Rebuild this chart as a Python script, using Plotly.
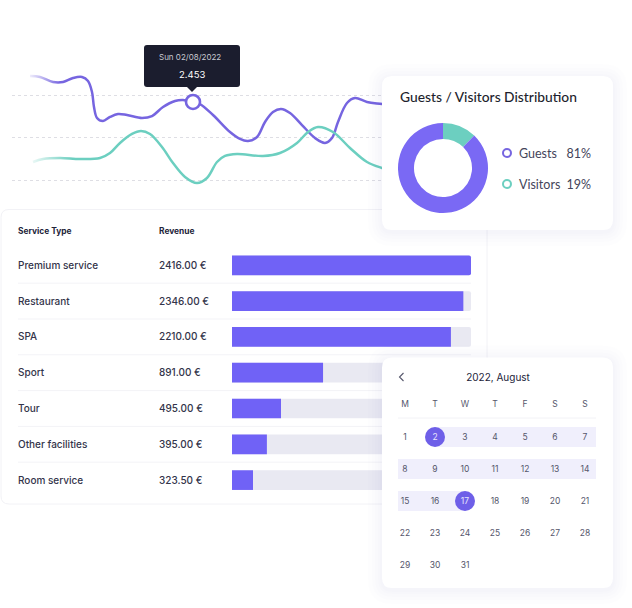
import plotly.graph_objs as go

W, H = 632, 608

# line chart (x is position along the month strip, y in thousands)
GUESTS_X = [30, 40, 53, 63, 73, 82, 88, 92, 94, 97, 103, 110, 118, 127, 142, 152, 163, 175, 183, 193, 200, 213, 230, 240, 248, 257, 265, 273, 281, 290, 302, 315, 325, 332, 338, 347, 355, 367, 382, 400]
GUESTS_Y = [2.759, 2.747, 2.688, 2.688, 2.735, 2.747, 2.700, 2.571, 2.394, 2.265, 2.229, 2.277, 2.312, 2.300, 2.265, 2.288, 2.394, 2.465, 2.477, 2.453, 2.429, 2.300, 2.100, 2.018, 1.994, 2.041, 2.218, 2.335, 2.371, 2.324, 2.182, 2.029, 1.971, 2.029, 2.218, 2.441, 2.500, 2.453, 2.429, 2.40]
VISITORS_X = [33, 43, 60, 80, 100, 110, 120, 132, 141, 150, 162, 173, 185, 197, 207, 217, 225, 237, 263, 280, 297, 308, 318, 333, 350, 367, 382, 400]
VISITORS_Y = [1.747, 1.782, 1.794, 1.782, 1.794, 1.853, 1.971, 2.077, 2.112, 2.077, 1.924, 1.735, 1.571, 1.500, 1.559, 1.747, 1.818, 1.841, 1.818, 1.853, 1.971, 2.100, 2.159, 2.100, 1.912, 1.747, 1.677, 1.62]
GRID_VALUES = [2.535, 2.037, 1.535]
TOOLTIP_X = [193]
TOOLTIP_Y = [2.453]
TOOLTIP_DATE = "Sun 02/08/2022"
TOOLTIP_VALUE = "2.453"

# table
SERVICES = ["Premium service", "Restaurant", "SPA", "Sport", "Tour", "Other facilities", "Room service"]
REVENUE = ["2416.00 €", "2346.00 €", "2210.00 €", "891.00 €", "495.00 €", "395.00 €", "323.50 €"]
BAR_PCT = [100, 96.8, 91.6, 38.1, 20.5, 14.6, 8.8]
TRACK_PCT = [100, 100, 100, 100, 100, 100, 100]
ROWS = [0, 1, 2, 3, 4, 5, 6]

# donut
DONUT_LABELS = ["Visitors", "Guests"]
DONUT_DRAWN = [12.2, 87.8]
LEGEND_LABELS = ["Guests", "Visitors"]
LEGEND_VALUES = ["81%", "19%"]

# calendar
WEEKDAYS = ["M", "T", "W", "T", "F", "S", "S"]
CAL_TITLE = "2022, August"
CAL_DAYS = list(range(1, 32))
SELECTED_DAYS = [2, 17]

PURPLE = "#7665E0"
BAR_PURPLE = "#7062F6"
TEAL = "#6CCFC0"
INK = "#23243A"
TEXT = "#33344A"
MUTED = "#55566B"


def dom_x(a, b):
    return [a / W, b / W]


def dom_y(a, b):
    return [1 - b / H, 1 - a / H]


def card_path(x0, y0, x1, y1, r, fx, fy):
    return (f"M{fx(x0 + r)},{fy(y0)} L{fx(x1 - r)},{fy(y0)} Q{fx(x1)},{fy(y0)} {fx(x1)},{fy(y0 + r)} "
            f"L{fx(x1)},{fy(y1 - r)} Q{fx(x1)},{fy(y1)} {fx(x1 - r)},{fy(y1)} "
            f"L{fx(x0 + r)},{fy(y1)} Q{fx(x0)},{fy(y1)} {fx(x0)},{fy(y1 - r)} "
            f"L{fx(x0)},{fy(y0 + r)} Q{fx(x0)},{fy(y0)} {fx(x0 + r)},{fy(y0)} Z")


def card_shapes(box, r, fx, fy, xref, yref, shadow=True, border=None):
    shapes = []
    if shadow:
        for grow in [14, 10, 7, 4, 2]:
            shapes.append(dict(type="path", xref=xref, yref=yref, layer="below",
                               path=card_path(box[0] - grow, box[1] - grow + 2, box[2] + grow, box[3] + grow + 2, r + grow, fx, fy),
                               fillcolor="rgba(40,40,90,0.008)", line=dict(width=0)))
    shapes.append(dict(type="path", xref=xref, yref=yref, layer="below",
                       path=card_path(box[0], box[1], box[2], box[3], r, fx, fy),
                       fillcolor="white", line=dict(width=1 if border else 0, color=border or "white")))
    return shapes


fig = go.Figure()
shapes = []
layout_axes = {}


def text_trace(x, y, text, size, color, pos="middle center", family="Inter", xaxis="x", yaxis="y", weight=400):
    return go.Scatter(x=x, y=y, text=text, mode="text", textposition=pos, xaxis=xaxis, yaxis=yaxis,
                      textfont=dict(size=size, color=color, family=family, weight=weight), showlegend=False, hoverinfo="skip")


# ---- line chart
line_px = [12, 420]
line_py = [30, 209]
fig.add_trace(go.Scatter(x=GUESTS_X, y=GUESTS_Y, mode="lines", line=dict(color=PURPLE, width=2.5, shape="spline", smoothing=1), showlegend=False))
fig.add_trace(go.Scatter(x=VISITORS_X, y=VISITORS_Y, mode="lines", line=dict(color=TEAL, width=2.5, shape="spline", smoothing=1), showlegend=False))

# fade the left ends of both lines
for (m0, m1, v0, v1) in [(26, 60, 2.62, 2.85), (26, 72, 1.66, 1.88)]:
    fig.add_trace(go.Scatter(x=[m0, m1, m1, m0, m0], y=[v0, v0, v1, v1, v0], mode="lines", fill="toself",
                             line=dict(width=0),
                             fillgradient=dict(type="horizontal", colorscale=[[0, "rgba(255,255,255,1)"], [1, "rgba(255,255,255,0)"]]),
                             showlegend=False, hoverinfo="skip"))

fig.add_trace(go.Scatter(x=TOOLTIP_X, y=TOOLTIP_Y, mode="markers",
                         marker=dict(size=14, color="white", line=dict(color=PURPLE, width=2.6)), showlegend=False))

layout_axes["xaxis"] = dict(domain=dom_x(*line_px), range=line_px, visible=False, anchor="y")
layout_axes["yaxis"] = dict(domain=dom_y(*line_py), range=[1.194, 3.300], anchor="x", tickmode="array", tickvals=GRID_VALUES,
                            showticklabels=False, showgrid=True, gridcolor="#DEDEE4", griddash="dot", gridwidth=1,
                            zeroline=False, showline=False, ticks="")

# tooltip box and pointer
tip = card_path(144, 45, 240, 87, 3, lambda v: v / W, lambda v: 1 - v / H)
shapes.append(dict(type="path", xref="paper", yref="paper", layer="above", path=tip, fillcolor="#1B1D2E", line=dict(width=0)))
shapes.append(dict(type="path", xref="paper", yref="paper", layer="above",
                   path=f"M{187 / W},{1 - 87 / H} L{197 / W},{1 - 87 / H} L{192 / W},{1 - 92 / H} Z",
                   fillcolor="#1B1D2E", line=dict(width=0)))
annotations = [
    dict(xref="paper", yref="paper", x=190 / W, y=1 - 57 / H, xanchor="center", yanchor="middle", text=TOOLTIP_DATE, showarrow=False,
         font=dict(size=8, color="#C8C9D1", family="Inter")),
    dict(xref="paper", yref="paper", x=192 / W, y=1 - 75 / H, xanchor="center", yanchor="middle", text=TOOLTIP_VALUE, showarrow=False,
         font=dict(size=9.5, color="white", family="Inter")),
]

# ---- table card
tbl_px = [0, 500]
tbl_py = [200, 520]


def tx(p):
    return (p - 232) / 2.39


def ty(p):
    return (p - 265.3) / 35.8


shapes += card_shapes((1, 209.5, 487, 504), 8, tx, ty, "x2", "y2", shadow=False, border="#F2F2F6")
for r in ROWS[:-1]:
    shapes.append(dict(type="line", xref="x2", yref="y2", layer="below", x0=tx(18), x1=tx(471), y0=r + 0.5, y1=r + 0.5,
                       line=dict(color="#F3F3F7", width=1)))

text_rows = [r + 0.025 for r in ROWS]
fig.add_trace(go.Bar(y=ROWS, x=TRACK_PCT, orientation="h", width=0.55, marker=dict(color="#E9E9F2", cornerradius=2, line=dict(width=0)),
                     xaxis="x2", yaxis="y2", showlegend=False))
fig.add_trace(go.Bar(y=ROWS, x=BAR_PCT, orientation="h", width=0.55, marker=dict(color=BAR_PURPLE, cornerradius=2, line=dict(width=0)),
                     xaxis="x2", yaxis="y2", showlegend=False))
fig.add_trace(text_trace([tx(18)] * 7, text_rows, SERVICES, 10, TEXT, "middle right", xaxis="x2", yaxis="y2", weight=500))
fig.add_trace(text_trace([tx(159)] * 7, text_rows, REVENUE, 10, TEXT, "middle right", xaxis="x2", yaxis="y2", weight=500))
fig.add_trace(text_trace([tx(18), tx(159)], [ty(232), ty(232)], ["Service Type", "Revenue"], 8.4, INK, "middle right", xaxis="x2", yaxis="y2", weight=700))

layout_axes["xaxis2"] = dict(domain=dom_x(*tbl_px), range=[tx(tbl_px[0]), tx(tbl_px[1])], visible=False, anchor="y2")
layout_axes["yaxis2"] = dict(domain=dom_y(*tbl_py), range=[ty(tbl_py[1]), ty(tbl_py[0])], visible=False, anchor="x2")

# ---- donut card
don_px = [362, 632]
don_py = [58, 250]
shapes += card_shapes((382, 76, 613, 230), 10, lambda v: v, lambda v: v, "x3", "y3")
fig.add_trace(go.Scatter(x=[507, 507], y=[153, 184], mode="markers", xaxis="x3", yaxis="y3", showlegend=False,
                         marker=dict(size=8, color="white", line=dict(width=2, color=[PURPLE, TEAL]))))
fig.add_trace(text_trace([400], [98.5], ["Guests / Visitors Distribution"], 13.8, "#1E1F2E", "middle right", "Lato", "x3", "y3", 500))
fig.add_trace(text_trace([519, 519], [154.5, 185.5], LEGEND_LABELS, 12.5, "#44455A", "middle right", "Lato", "x3", "y3"))
fig.add_trace(text_trace([591, 591], [154.5, 185.5], LEGEND_VALUES, 12.5, "#44455A", "middle left", "Lato", "x3", "y3"))
layout_axes["xaxis3"] = dict(domain=dom_x(*don_px), range=don_px, visible=False, anchor="y3")
layout_axes["yaxis3"] = dict(domain=dom_y(*don_py), range=[don_py[1], don_py[0]], visible=False, anchor="x3")

fig.add_trace(go.Pie(labels=DONUT_LABELS, values=DONUT_DRAWN, hole=0.645, sort=False, direction="clockwise", rotation=0,
                     marker=dict(colors=[TEAL, "#7A69F4"], line=dict(width=0)), textinfo="none",
                     domain=dict(x=dom_x(398, 488), y=dom_y(123, 213)), showlegend=False))

# ---- calendar card
cal_px = [362, 632]
cal_py = [340, 606]


def cx(p):
    return (p - 405) / 30


def cy(p):
    return (p - 437) / 32


shapes += card_shapes((382, 357.5, 613, 588), 10, cx, cy, "x4", "y4")
shapes.append(dict(type="line", xref="x4", yref="y4", layer="below", x0=cx(398), x1=cx(596), y0=cy(418), y1=cy(418),
                   line=dict(color="#F2F2F6", width=1)))
shapes.append(dict(type="path", xref="x4", yref="y4", layer="below",
                   path=f"M{cx(403.5)},{cy(373)} L{cx(399.5)},{cy(377)} L{cx(403.5)},{cy(381)}",
                   line=dict(color=MUTED, width=1.1)))

sel_col = [(d - 1) % 7 for d in SELECTED_DAYS]
sel_row = [(d - 1) // 7 for d in SELECTED_DAYS]
other = [d for d in CAL_DAYS if d not in SELECTED_DAYS]

# selected range band, one bar per week
band_row = [0, 1, 2]
band_from = [sel_col[0], cx(398), cx(398)]
band_to = [cx(596), cx(596), sel_col[1]]
fig.add_trace(go.Bar(y=band_row, base=band_from, x=[b - a for a, b in zip(band_from, band_to)], orientation="h", width=0.62,
                     marker=dict(color="#F0EFFC", line=dict(width=0)), xaxis="x4", yaxis="y4", showlegend=False))
fig.add_trace(go.Scatter(x=sel_col, y=sel_row, mode="markers", marker=dict(size=20, color="#6E5FE8"), xaxis="x4", yaxis="y4", showlegend=False))
fig.add_trace(text_trace([(d - 1) % 7 for d in other], [(d - 1) // 7 + 0.025 for d in other], [str(d) for d in other], 8.5, MUTED, xaxis="x4", yaxis="y4"))
fig.add_trace(text_trace(sel_col, [r + 0.025 for r in sel_row], [str(d) for d in SELECTED_DAYS], 8.5, "#E8E6FC", xaxis="x4", yaxis="y4"))
fig.add_trace(text_trace(list(range(7)), [cy(405)] * 7, WEEKDAYS, 8.5, MUTED, xaxis="x4", yaxis="y4"))
fig.add_trace(text_trace([cx(498)], [cy(378)], [CAL_TITLE], 10, INK, xaxis="x4", yaxis="y4"))
layout_axes["xaxis4"] = dict(domain=dom_x(*cal_px), range=[cx(cal_px[0]), cx(cal_px[1])], visible=False, anchor="y4")
layout_axes["yaxis4"] = dict(domain=dom_y(*cal_py), range=[cy(cal_py[1]), cy(cal_py[0])], visible=False, anchor="x4")

fig.update_layout(
    width=W, height=H, margin=dict(l=0, r=0, t=0, b=0),
    paper_bgcolor="white", plot_bgcolor="rgba(0,0,0,0)",
    barmode="overlay", showlegend=False, hovermode=False,
    shapes=shapes, annotations=annotations, **layout_axes,
)

fig.write_html("out.html", config=dict(displayModeBar=False),
               post_script="document.body.style.margin='0';document.body.style.overflow='hidden';")
